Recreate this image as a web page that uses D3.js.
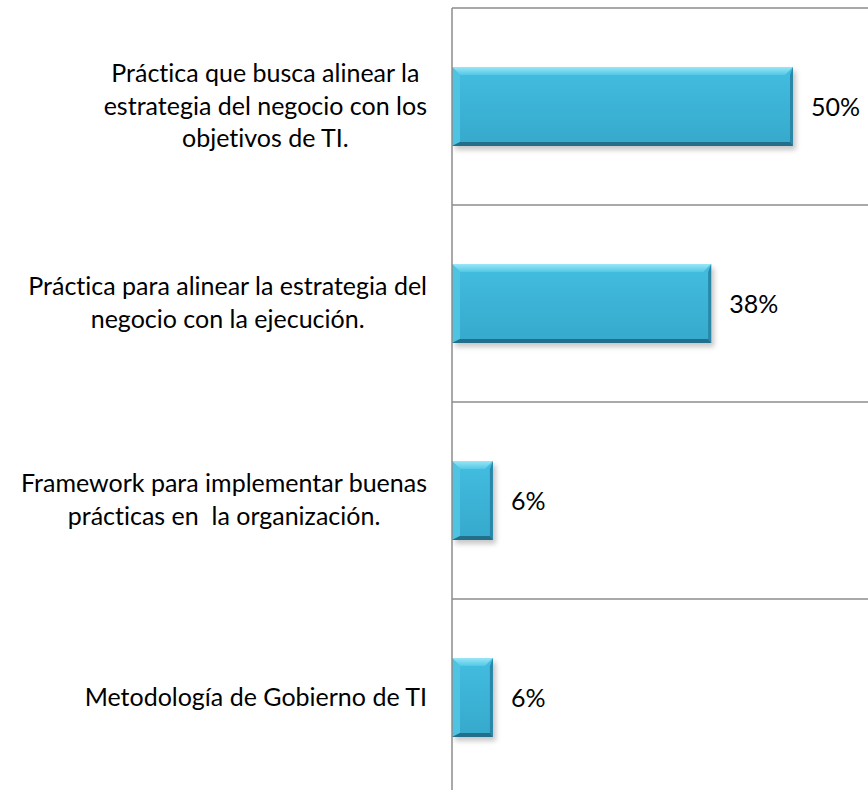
<!DOCTYPE html>
<html>
<head>
<meta charset="utf-8">
<script src="https://cdn.jsdelivr.net/npm/d3@7"></script>
<style>
  body { margin: 0; background: #fff; }
  text { font-family: Lato, "Open Sans", sans-serif; fill: #000; white-space: pre; font-variant-ligatures: none; }
</style>
</head>
<body>
<div id="chart"></div>
<script>
const WIDTH = 868, HEIGHT = 790;
const margin = {top: 8, left: 452};

// categories, top to bottom, already split in lines like the original
const categories = ["c1", "c2", "c3", "c4"];
const categoryLines = [
    ["Práctica que busca alinear la", "estrategia del negocio con los", "objetivos de TI."],
    ["Práctica para alinear la estrategia del", "negocio con la ejecución."],
    ["Framework para implementar buenas", "prácticas en  la organización."],
    ["Metodología de Gobierno de TI"]
];
const percents = [50, 38, 6, 6];

const data = categories.map((c, i) => ({id: c, lines: categoryLines[i], value: percents[i]}));

let svg = d3.select("#chart")
    .append("svg")
    .attr("width", WIDTH)
    .attr("height", HEIGHT);

let defs = svg.append("defs");

let blur = defs.append("filter")
    .attr("id", "shadow")
    .attr("x", "-20%").attr("y", "-20%")
    .attr("width", "140%").attr("height", "140%");
blur.append("feGaussianBlur").attr("stdDeviation", 2.5);

let body = defs.append("linearGradient")
    .attr("id", "bodyGrad")
    .attr("x1", 0).attr("y1", 0).attr("x2", 0).attr("y2", 1);
body.append("stop").attr("offset", "0%").attr("stop-color", "#42bde0");
body.append("stop").attr("offset", "100%").attr("stop-color", "#36a9cc");

let topGrad = defs.append("linearGradient")
    .attr("id", "topGrad")
    .attr("x1", 0).attr("y1", 0).attr("x2", 0).attr("y2", 1);
topGrad.append("stop").attr("offset", "0%").attr("stop-color", "#98e6f6");
topGrad.append("stop").attr("offset", "100%").attr("stop-color", "#52c7e6");

// band spans 197px per category, bar takes 40% of it
let y = d3.scaleBand()
    .domain(categories)
    .range([margin.top, margin.top + 4 * 197])
    .paddingInner(0.6)
    .paddingOuter(0.3);

let x = d3.scaleLinear()
    .domain([0, 50])
    .range([margin.left, 793]);

// category separators (top + between categories)
let bounds = categories.map(c => y(c) - y.step() * y.paddingOuter());
svg.append("g")
    .selectAll("line")
    .data(bounds)
    .enter().append("line")
    .attr("x1", x(0))
    .attr("x2", WIDTH)
    .attr("y1", d => d)
    .attr("y2", d => d)
    .style("stroke", "#8c8c8c")
    .style("stroke-width", 1.3);

// bars
const bev = 8;
let bars = svg.append("g")
    .selectAll("g")
    .data(data)
    .enter().append("g");

bars.append("rect")
    .attr("x", x(0) + 3)
    .attr("y", d => y(d.id) + 4)
    .attr("width", d => x(d.value) - x(0))
    .attr("height", y.bandwidth())
    .style("fill", "#9a9a9a")
    .style("opacity", 0.55)
    .attr("filter", "url(#shadow)");

bars.append("rect")
    .attr("x", x(0))
    .attr("y", d => y(d.id))
    .attr("width", d => x(d.value) - x(0))
    .attr("height", y.bandwidth())
    .style("fill", "url(#bodyGrad)");

// bevel faces
function face(d, side) {
    let x0 = x(0), x1 = x(d.value), y0 = y(d.id), y1 = y0 + y.bandwidth();
    let b = Math.min(bev, (x1 - x0) / 3);
    if (side === "top") return [[x0, y0], [x1, y0], [x1 - b, y0 + b], [x0 + b, y0 + b]];
    if (side === "left") return [[x0, y0], [x0 + b, y0 + b], [x0 + b, y1 - 4], [x0, y1]];
    if (side === "right") return [[x1, y0], [x1, y1], [x1 - 3, y1 - 4], [x1 - 3, y0 + b]];
    return [[x0, y1], [x1, y1], [x1 - 3, y1 - 4], [x0 + b, y1 - 4]];
}
let faceStyle = {top: "url(#topGrad)", left: "#4ec3e2", right: "#2a87a8", bottom: "#236e89"};
["top", "left", "right", "bottom"].forEach(function (side) {
    bars.append("polygon")
        .attr("points", d => face(d, side).map(p => p.join(",")).join(" "))
        .style("fill", faceStyle[side]);
});

// value labels
svg.append("g")
    .selectAll("text")
    .data(data)
    .enter().append("text")
    .attr("x", d => x(d.value) + 18)
    .attr("y", d => y(d.id) + y.bandwidth() / 2 + 9)
    .style("font-size", "25px")
    .text(d => d.value + "%");

// vertical axis line
svg.append("line")
    .attr("x1", x(0)).attr("x2", x(0))
    .attr("y1", margin.top).attr("y2", HEIGHT)
    .style("stroke", "#8c8c8c")
    .style("stroke-width", 1.5);

// category labels: block right-aligned, lines centered in the block
const lineH = 32.5;
const labelRight = 427;
let labels = svg.append("g")
    .selectAll("g")
    .data(data)
    .enter().append("g");

labels.each(function (d) {
    let g = d3.select(this);
    let cy = y(d.id) + y.bandwidth() / 2;
    let first = cy - (d.lines.length - 1) / 2 * lineH + 8;
    let texts = g.selectAll("text")
        .data(d.lines)
        .enter().append("text")
        .attr("y", (l, i) => first + i * lineH)
        .style("font-size", "25px")
        .style("text-anchor", "middle")
        .text(l => l);
    let maxW = d3.max(texts.nodes(), n => n.getComputedTextLength());
    texts.attr("x", labelRight - maxW / 2);
});
</script>
</body>
</html>
